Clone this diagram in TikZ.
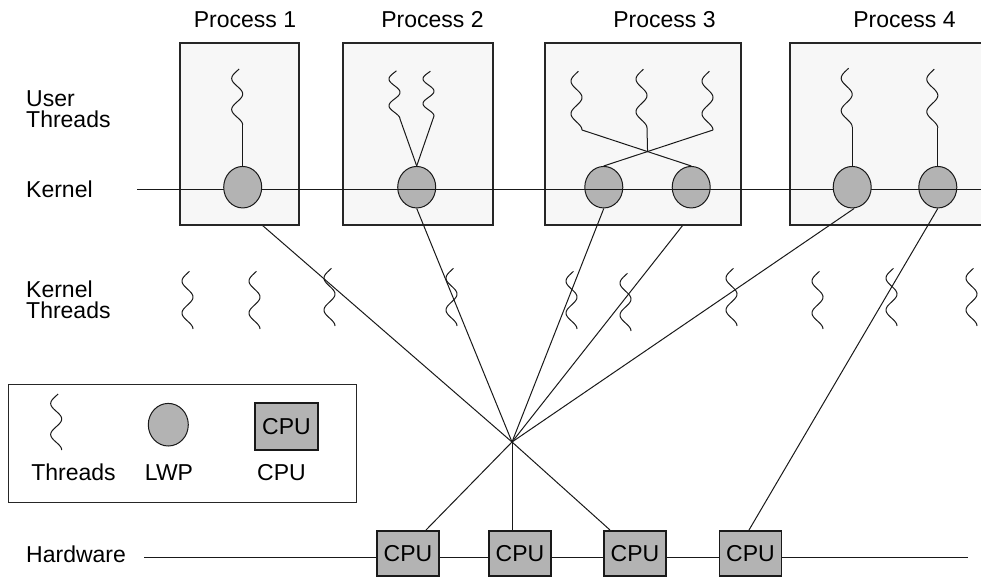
\documentclass[tikz,border=0pt]{standalone}
\usepackage{fontspec}
\setmainfont{Liberation Sans}
\usetikzlibrary{shapes.geometric}
\definecolor{lwpgray}{HTML}{B3B3B3}
\definecolor{boxfill}{HTML}{F7F7F7}
\begin{document}
\begin{tikzpicture}[x=1pt,y=-1pt,
  every node/.style={font=\fontsize{23}{21}\selectfont},
  pbox/.style={draw=black!85, fill=boxfill, line width=1.1pt, inner sep=0pt, minimum height=182pt},
  lwp/.style={ellipse, draw=black!90, fill=lwpgray, line width=1pt, minimum width=38pt, minimum height=41.5pt, inner sep=0pt},
  cpu/.style={draw=black!90, fill=lwpgray, line width=1.8pt, minimum width=62pt, minimum height=45pt, inner sep=0pt},
  lbl/.style={inner sep=0pt},
  wire/.style={line width=1pt, draw=black!90},
  squig/.pic={\draw[wire] plot[domain=0:56, samples=60, variable=\t] ({-5.5+5.5*cos(\t*11.6129)},{-\t});}
]
\useasboundingbox (0,0) rectangle (981,578);
\clip (0,0) rectangle (981,578);

% lines hidden behind the boxes
\coordinate (C) at (512,442);
\coordinate (k1) at (262,225);
\coordinate (k3) at (683,225);
\draw[wire] (k1) -- (C);
\draw[wire] (k3) -- (C);

% process boxes
\node[pbox, minimum width=119pt] (box1) at (239.5,134) {};
\node[pbox, minimum width=150pt] (box2) at (418,134) {};
\node[pbox, minimum width=196pt] (box3) at (643,134) {};
\node[pbox, minimum width=220pt] (box4) at (900,134) {};

% LWPs (some under the kernel line, some above)
\node[lwp] (lwp2) at (416.7,187.2) {};
\node[lwp] (lwp3a) at (603.8,187.2) {};
\node[lwp] (lwp3b) at (691.2,187.2) {};
\node[lwp] (lwp4b) at (937.8,187.2) {};
\coordinate (kl0) at (137,189.3);
\coordinate (kl1) at (981,189.3);
\draw[wire] (kl0) -- (kl1);
\node[lwp] (lwp1) at (242.7,187.2) {};
\node[lwp] (lwp4a) at (852.2,187.2) {};

% user threads
\coordinate (u1) at (242.7,125);
\pic at (u1) {squig};
\draw[wire] (u1) -- (lwp1.north);

\coordinate (u2a) at (400,119);
\coordinate (u2b) at (434,116);
\pic[yscale=0.86] at (u2a) {squig};
\pic[yscale=0.8] at (u2b) {squig};
\draw[wire] (u2a) -- (lwp2.north);
\draw[wire] (u2b) -- (lwp2.north);

\coordinate (u3a) at (582,130);
\coordinate (u3b) at (647,128);
\coordinate (u3c) at (713,130);
\pic[yscale=1.05] at (u3a) {squig};
\pic[yscale=1.05] at (u3b) {squig};
\pic[yscale=1.05] at (u3c) {squig};
\draw[wire] (u3a) -- (lwp3b.north);
\draw[wire] (u3c) -- (lwp3a.north);
\coordinate (x3) at (intersection of u3a--lwp3b.north and u3c--lwp3a.north);
\draw[wire] (u3b) -- (x3);

\coordinate (u4a) at (852.2,127);
\coordinate (u4b) at (937.8,128);
\pic[yscale=1.05] at (u4a) {squig};
\pic[yscale=1.05] at (u4b) {squig};
\draw[wire] (u4a) -- (lwp4a.north);
\draw[wire] (u4b) -- (lwp4b.north);

% hardware
\coordinate (hw0) at (144,557.3);
\coordinate (hw1) at (968,557.3);
\draw[wire] (hw0) -- (hw1);

% connectors LWP -> convergence -> CPUs
\draw[wire] (lwp2.south) -- (C);
\draw[wire] (lwp3a.south) -- (C);
\draw[wire] ([xshift=2pt]lwp4a.south) -- (C);
\coordinate (c1t) at (426,530);
\coordinate (c2t) at (512,530);
\coordinate (c3t) at (610,530);
\coordinate (c4t) at (749,530);
\draw[wire] (C) -- (c1t);
\draw[wire] (C) -- (c2t);
\draw[wire] (C) -- (c3t);
\draw[wire] (lwp4b.south) -- (c4t);

\node[cpu] (cpu1) at (408,553.5) {CPU};
\node[cpu] (cpu2) at (520,553.5) {CPU};
\node[cpu] (cpu3) at (635,553.5) {CPU};
\node[cpu] (cpu4) at (750.5,553.5) {CPU};

% kernel threads
\foreach \kx/\ky in {193/329, 260/329, 335/326, 457/326, 577/329, 631/331, 737/326, 823/329, 897/326, 977/326}
  \pic[yscale=1.03] at (\kx,\ky) {squig};

% legend
\node[draw=black!85, line width=1pt, inner sep=0pt, minimum width=348pt, minimum height=118pt] (legend) at (182,443) {};
\coordinate (lgthr) at (61.7,450);
\pic at (lgthr) {squig};
\node[lwp, minimum width=40pt, minimum height=42.6pt] (lglwp) at (168.3,424.7) {};
\node[cpu, minimum width=63pt, minimum height=47pt] (lgcpu) at (286.5,426.5) {CPU};
\node[lbl, anchor=base] (lgt1) at (73.5,480) {Threads};
\node[lbl, anchor=base] (lgt2) at (169,480) {LWP};
\node[lbl, anchor=base] (lgt3) at (281.5,480) {CPU};

% labels
\node[lbl, anchor=base] (p1) at (245,28) {Process 1};
\node[lbl, anchor=base] (p2) at (432.5,28) {Process 2};
\node[lbl, anchor=base] (p3) at (664.5,28) {Process 3};
\node[lbl, anchor=base] (p4) at (904.5,28) {Process 4};
\node[lbl, anchor=base west] (l1) at (26,106) {User};
\node[lbl, anchor=base west] (l2) at (26,127) {Threads};
\node[lbl, anchor=base west] (l3) at (26,197) {Kernel};
\node[lbl, anchor=base west] (l4) at (26,297) {Kernel};
\node[lbl, anchor=base west] (l5) at (26,318) {Threads};
\node[lbl, anchor=base west] (l6) at (26,562) {Hardware};
\end{tikzpicture}
\end{document}
